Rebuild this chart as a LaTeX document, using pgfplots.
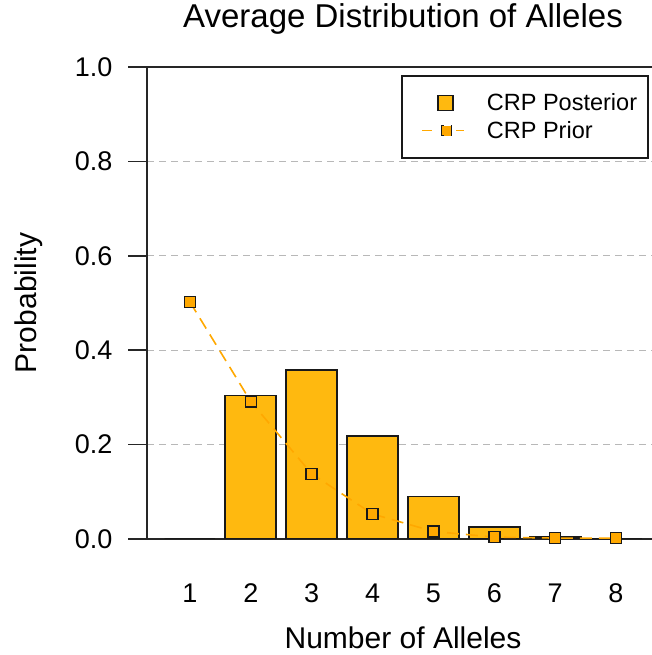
\documentclass[border=0pt]{standalone}
\usepackage{pgfplots}
\pgfplotsset{compat=1.18}
\usepackage{fontspec}
\setmainfont{Liberation Sans}
\definecolor{barcol}{RGB}{255,185,15}
\definecolor{priorcol}{RGB}{255,168,0}
\begin{document}
\begin{tikzpicture}
\useasboundingbox (0,0) rectangle (651pt,655pt);
\begin{axis}[
  at={(147pt,116pt)}, anchor=south west,
  scale only axis, width=508pt, height=472pt,
  xmin=0.2935, xmax=8.641, ymin=0, ymax=1,
  /pgf/number format/assume math mode=true,
  axis line style={line width=1.6pt, black!85},
  xtick={1,2,3,4,5,6,7,8},
  xtick style={draw=none},
  ytick={0,0.2,0.4,0.6,0.8,1},
  yticklabels={0.0,0.2,0.4,0.6,0.8,1.0},
  ytick pos=left,
  tick align=outside,
  major tick length=19pt,
  ytick style={line width=1.6pt, black!85},
  ymajorgrids,
  grid style={black!28, line width=1.3pt, dash pattern=on 7pt off 5pt},
  tick label style={font=\fontsize{27}{32}\selectfont},
  xticklabel style={yshift=-22pt},
  yticklabel style={xshift=-12pt},
  title={Average Distribution of Alleles},
  title style={at={(axis description cs:0.504,1.089)}, anchor=center, font=\fontsize{33}{38}\selectfont},
  xlabel={Number of Alleles},
  xlabel style={at={(axis description cs:0.504,-0.209)}, anchor=center, font=\fontsize{30}{35}\selectfont},
  ylabel={Probability},
  ylabel style={at={(axis description cs:-0.232,0.5)}, anchor=center, rotate=0, font=\fontsize{30}{35}\selectfont},
  legend style={at={(axis description cs:0.988,0.983)}, anchor=north east,
    draw=black!90, line width=1.6pt, font=\fontsize{23.5}{28}\selectfont,
    inner xsep=9pt, inner ysep=16pt, row sep=5pt,
    /tikz/every odd column/.append style={column sep=20pt}},
  legend cell align=left,
]
\addplot[ybar, bar width=51pt, fill=barcol, draw=black!90, line width=1.8pt,
  legend image code/.code={\path (-10pt,0pt); \draw[black!90, fill=barcol, line width=1.6pt] (16pt,-7.5pt) rectangle (31pt,7.5pt);}]
  coordinates {(1,0) (2,0.304) (3,0.358) (4,0.219) (5,0.090) (6,0.026) (7,0.005) (8,0.001)};
\addlegendentry{CRP Posterior}
\addplot[priorcol, line width=1.6pt, dash pattern=on 12pt off 7pt, mark=square*, mark size=5.5pt,
  mark options={solid, fill=priorcol, draw=black!90, line width=1.6pt},
  legend image code/.code={\path (-10pt,0pt); \draw[priorcol, line width=1.6pt] (0pt,0pt)--(10pt,0pt) (34pt,0pt)--(42pt,0pt);
    \draw[black!90, fill=priorcol, line width=1.6pt] (19.5pt,-5pt) rectangle (29.5pt,5pt);}]
  coordinates {(1,0.502) (2,0.291) (3,0.138) (4,0.053) (5,0.016) (6,0.004) (7,0.002) (8,0.002)};
\addlegendentry{CRP Prior}
\end{axis}
\end{tikzpicture}
\end{document}
